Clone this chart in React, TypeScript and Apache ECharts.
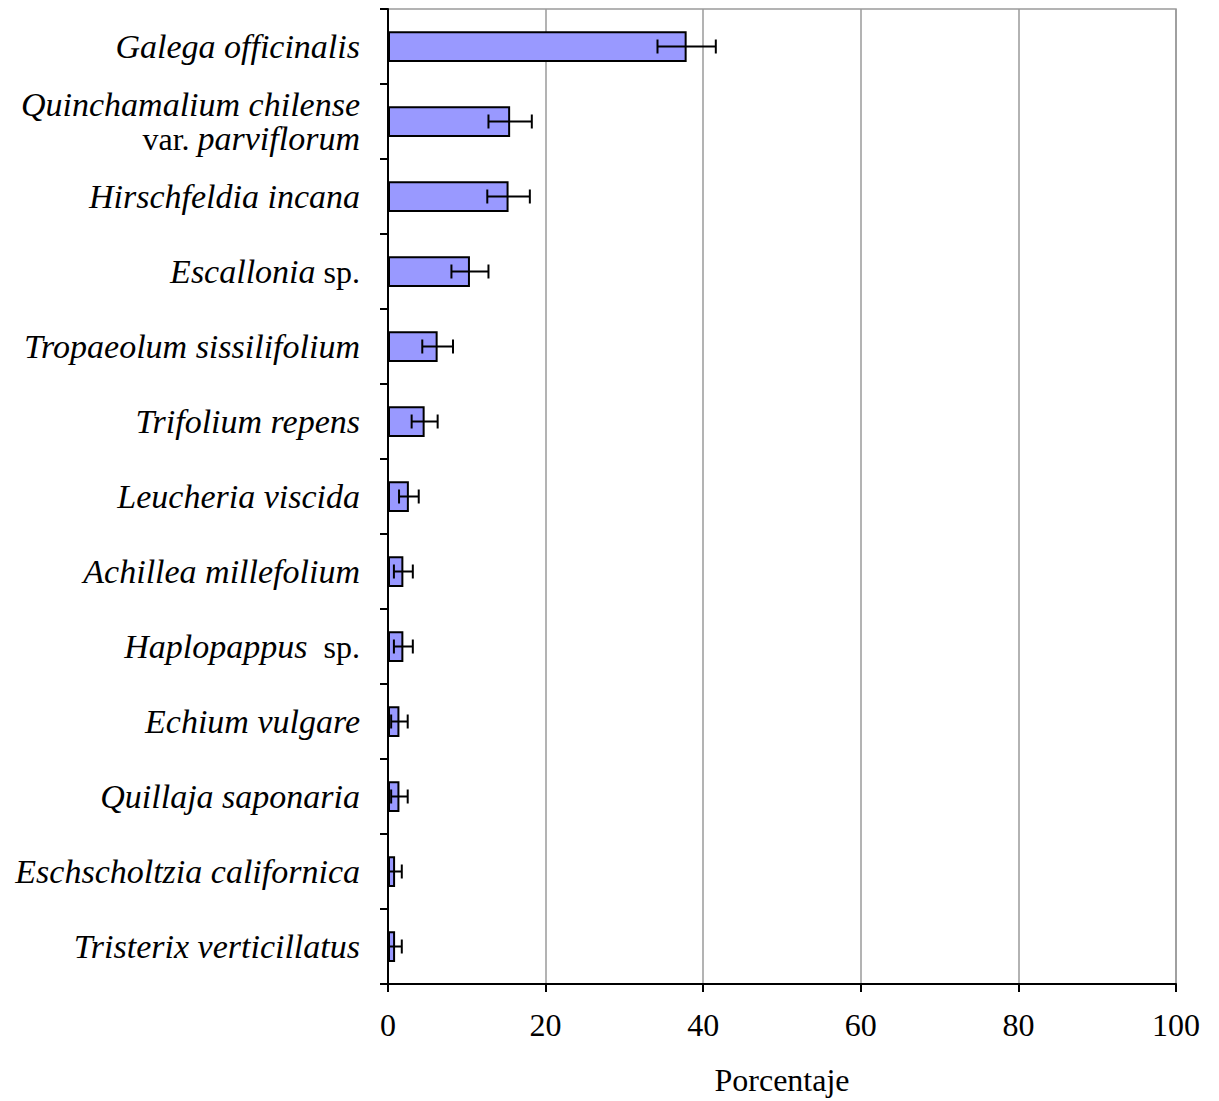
import React, { useEffect, useRef } from "react";
import * as echarts from "echarts";

const categories = [
  "Galega officinalis",
  "Quinchamalium chilense var. parviflorum",
  "Hirschfeldia incana",
  "Escallonia sp.",
  "Tropaeolum sissilifolium",
  "Trifolium repens",
  "Leucheria viscida",
  "Achillea millefolium",
  "Haplopappus sp.",
  "Echium vulgare",
  "Quillaja saponaria",
  "Eschscholtzia californica",
  "Tristerix verticillatus",
];
const values = [37.9, 15.5, 15.3, 10.4, 6.3, 4.65, 2.65, 1.95, 1.95, 1.45, 1.45, 0.9, 0.9];
const errors = [3.7, 2.75, 2.7, 2.35, 1.95, 1.65, 1.25, 1.2, 1.2, 1.05, 1.05, 0.85, 0.85];
const xTicks = [0, 20, 40, 60, 80, 100];

const richLabels: Record<string, string> = {
  "Escallonia sp.": "{i|Escallonia}{n| sp.}",
  "Haplopappus sp.": "{i|Haplopappus}{n|  sp.}",
  "Quinchamalium chilense var. parviflorum": "{i|Quinchamalium chilense}\n{n|var. }{i|parviflorum}",
};

const FONT = "'Liberation Serif', 'Times New Roman', serif";

export default function App() {
  const ref = useRef<HTMLDivElement>(null);
  useEffect(() => {
    if (!ref.current) return;
    const chart = echarts.init(ref.current, null, { renderer: "svg" });
    const errData = categories.map((c, i) => [values[i] - errors[i], values[i] + errors[i], i]);
    chart.setOption({
      animation: false,
      backgroundColor: "#ffffff",
      grid: {
        left: 388,
        right: 43,
        top: 9,
        bottom: 114,
        show: true,
        borderColor: "#9a9a9a",
        borderWidth: 1.5,
        containLabel: false,
      },
      xAxis: {
        type: "value",
        min: xTicks[0],
        max: xTicks[xTicks.length - 1],
        interval: 20,
        name: "Porcentaje",
        nameLocation: "middle",
        nameGap: 80,
        nameTextStyle: { fontFamily: FONT, fontSize: 32, color: "#000" },
        axisLine: { show: true, lineStyle: { color: "#000", width: 2 } },
        axisTick: { show: true, length: 8, lineStyle: { color: "#000", width: 2 } },
        axisLabel: { fontFamily: FONT, fontSize: 32, color: "#000", margin: 25 },
        splitLine: { show: true, lineStyle: { color: "#9a9a9a", width: 1.5 } },
      },
      yAxis: {
        type: "category",
        data: categories,
        inverse: true,
        axisLine: { show: true, lineStyle: { color: "#000", width: 2 } },
        axisTick: { show: true, length: 8, lineStyle: { color: "#000", width: 2 } },
        splitLine: { show: false },
        axisLabel: {
          margin: 28,
          interval: 0,
          align: "right",
          formatter: (v: string) => richLabels[v] || `{i|${v}}`,
          rich: {
            i: { fontFamily: FONT, fontStyle: "italic", fontSize: 34, color: "#000", lineHeight: 34, align: "right" },
            n: { fontFamily: FONT, fontStyle: "normal", fontSize: 32, color: "#000", lineHeight: 34, align: "right" },
          },
        },
      },
      series: [
        {
          type: "bar",
          data: values,
          barWidth: "41%",
          itemStyle: { color: "#9999ff", borderColor: "#000", borderWidth: 2 },
        },
        {
          type: "custom",
          data: errData,
          encode: { x: [0, 1], y: 2 },
          z: 10,
          renderItem: (params: any, api: any) => {
            const lo = api.coord([api.value(0), api.value(2)]);
            const hi = api.coord([api.value(1), api.value(2)]);
            const h = 7;
            const style = { stroke: "#000", lineWidth: 2 };
            return {
              type: "group",
              children: [
                { type: "line", shape: { x1: lo[0], y1: lo[1], x2: hi[0], y2: hi[1] }, style },
                { type: "line", shape: { x1: lo[0], y1: lo[1] - h, x2: lo[0], y2: lo[1] + h }, style },
                { type: "line", shape: { x1: hi[0], y1: hi[1] - h, x2: hi[0], y2: hi[1] + h }, style },
              ],
            };
          },
        },
      ],
    });
    return () => chart.dispose();
  }, []);
  return (
    <div
      ref={ref}
      style={{ position: "absolute", left: 0, top: 0, width: 1219, height: 1101, background: "#fff" }}
    />
  );
}
